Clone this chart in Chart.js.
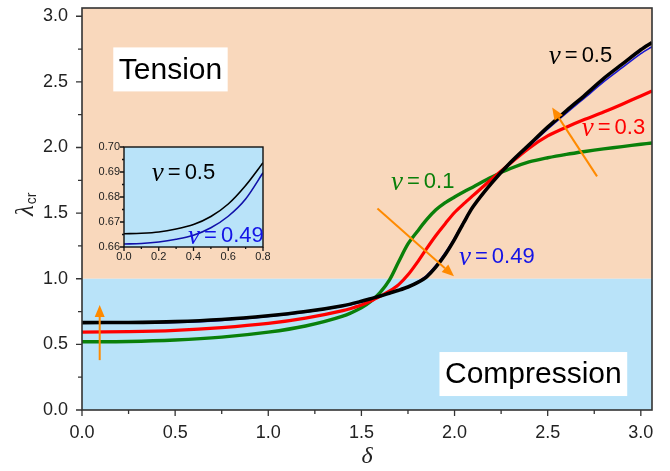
<!DOCTYPE html>
<html>
<head>
<meta charset="utf-8">
<title>Critical stretch vs delta</title>
<script src="https://cdn.jsdelivr.net/npm/chart.js@4.4.1/dist/chart.umd.min.js"></script>
<style>
  html, body { margin: 0; padding: 0; background: #fff; }
  #wrap { position: relative; width: 670px; height: 471px; }
  #main { position: absolute; left: 0; top: 0; }
  #inset { position: absolute; left: 95px; top: 140px; }
</style>
</head>
<body>
<div id="wrap">
  <canvas id="main" width="670" height="471" style="width:670px;height:471px"></canvas>
  <canvas id="inset" width="175" height="128" style="width:175px;height:128px"></canvas>
</div>
<script>
// delta values shared by the four curves
const delta = [0, 0.25, 0.5, 0.75, 1.0, 1.2, 1.4, 1.5, 1.55, 1.6, 1.65, 1.7, 1.75, 1.8, 1.85,
  1.9, 1.95, 2.0, 2.05, 2.1, 2.2, 2.3, 2.4, 2.5, 2.6, 2.7, 2.8, 2.9, 3.0, 3.06];

// critical stretch for each Poisson ratio
const lambdaNu05 = [0.666, 0.667, 0.673, 0.689, 0.718, 0.75, 0.795, 0.828, 0.848, 0.868, 0.89, 0.912, 0.937, 0.97, 1.015,
  1.09, 1.185, 1.30, 1.43, 1.55, 1.73, 1.885, 2.02, 2.155, 2.28, 2.40, 2.525, 2.635, 2.745, 2.80];
const lambdaNu049 = [0.661, 0.662, 0.667, 0.683, 0.712, 0.745, 0.791, 0.824, 0.846, 0.867, 0.89, 0.914, 0.94, 0.976, 1.025,
  1.102, 1.198, 1.312, 1.438, 1.553, 1.728, 1.878, 2.01, 2.14, 2.262, 2.38, 2.50, 2.608, 2.715, 2.768];
const lambdaNu03 = [0.594, 0.597, 0.607, 0.628, 0.66, 0.70, 0.757, 0.80, 0.83, 0.866, 0.905, 0.955, 1.03, 1.125, 1.23,
  1.33, 1.42, 1.505, 1.572, 1.635, 1.76, 1.88, 1.995, 2.088, 2.155, 2.215, 2.27, 2.33, 2.393, 2.43];
const lambdaNu01 = [0.52, 0.522, 0.533, 0.555, 0.593, 0.64, 0.715, 0.78, 0.828, 0.895, 0.99, 1.13, 1.265, 1.36, 1.45,
  1.525, 1.58, 1.623, 1.663, 1.70, 1.775, 1.84, 1.89, 1.922, 1.948, 1.97, 1.99, 2.007, 2.025, 2.035];

// zoomed view of the small-delta range
const insetDelta = [0, 0.1, 0.2, 0.3, 0.4, 0.5, 0.6, 0.7, 0.8];
const insetNu05 = [0.6653, 0.6655, 0.6660, 0.6672, 0.6690, 0.6722, 0.6772, 0.6846, 0.6937];
const insetNu049 = [0.6612, 0.6614, 0.6620, 0.6631, 0.6647, 0.6677, 0.6723, 0.6792, 0.6897];

// tick positions
const xTicks = [0, 0.25, 0.5, 0.75, 1.0, 1.25, 1.5, 1.75, 2.0, 2.25, 2.5, 2.75, 3.0];
const yTicks = [0, 0.25, 0.5, 0.75, 1.0, 1.25, 1.5, 1.75, 2.0, 2.25, 2.5, 2.75, 3.0];
const insetXTicks = [0, 0.1, 0.2, 0.3, 0.4, 0.5, 0.6, 0.7, 0.8];
const insetYTicks = [0.66, 0.665, 0.67, 0.675, 0.68, 0.685, 0.69, 0.695, 0.70];

const boundary = 1.0;   // lambda_cr = 1 splits tension / compression

const SANS = '"Liberation Sans", Arial, Helvetica, sans-serif';
const SERIF = '"Liberation Serif", "Times New Roman", serif';
const TENSION_BG = '#f9d8bc';
const COMPRESSION_BG = '#b9e3f9';
const ARROW = '#ff8a00';

Chart.defaults.font.family = SANS;
Chart.defaults.color = '#222';

function points(xs, ys) {
  return xs.map((x, i) => ({ x: x, y: ys[i] }));
}

function isMajor(v, step) {
  const r = v / step;
  return Math.abs(r - Math.round(r)) < 1e-6;
}

// keep the plot area exactly where the layout padding puts it
function noEdgePadding(s) {
  s.paddingTop = 0;
  s.paddingBottom = 0;
  s.paddingLeft = 0;
  s.paddingRight = 0;
}

function drawArrow(ctx, x0, y0, x1, y1, color) {
  const ang = Math.atan2(y1 - y0, x1 - x0);
  const head = 12, half = 5;
  const bx = x1 - head * Math.cos(ang), by = y1 - head * Math.sin(ang);
  ctx.save();
  ctx.strokeStyle = color;
  ctx.fillStyle = color;
  ctx.lineWidth = 2;
  ctx.beginPath();
  ctx.moveTo(x0, y0);
  ctx.lineTo(bx, by);
  ctx.stroke();
  ctx.beginPath();
  ctx.moveTo(x1, y1);
  ctx.lineTo(bx + half * Math.sin(ang), by - half * Math.cos(ang));
  ctx.lineTo(bx - half * Math.sin(ang), by + half * Math.cos(ang));
  ctx.closePath();
  ctx.fill();
  ctx.restore();
}

function drawNu(ctx, value, x, y, color) {
  ctx.save();
  ctx.fillStyle = color;
  ctx.textBaseline = 'middle';
  ctx.textAlign = 'left';
  ctx.font = 'italic 27px ' + SERIF;
  ctx.fillText('\u03bd', x, y + 1);
  let cx = x + ctx.measureText('\u03bd').width + 4;
  ctx.font = '22px ' + SANS;
  ctx.fillText('=', cx, y);
  cx += ctx.measureText('=').width + 4;
  ctx.fillText(value, cx, y);
  ctx.restore();
}

function drawBoxedText(ctx, text, cx, cy) {
  ctx.save();
  ctx.font = '30px ' + SANS;
  const w = ctx.measureText(text).width + 11;
  const h = 44;
  ctx.fillStyle = '#fff';
  ctx.fillRect(cx - w / 2, cy - h / 2, w, h);
  ctx.fillStyle = '#000';
  ctx.textAlign = 'center';
  ctx.textBaseline = 'middle';
  ctx.fillText(text, cx, cy + 1);
  ctx.restore();
}

// frame round the plot area plus outward tick marks
function frameTicks(cfg) {
  return {
    id: 'frameTicks',
    afterDatasetsDraw(chart) {
      const { ctx, chartArea: a, scales: { x, y } } = chart;
      ctx.save();
      ctx.strokeStyle = cfg.color;
      ctx.lineWidth = cfg.lineWidth;
      ctx.strokeRect(a.left, a.top, a.width, a.height);
      ctx.lineWidth = 1.3;
      ctx.beginPath();
      cfg.xTicks.forEach(v => {
        const px = x.getPixelForValue(v);
        const len = isMajor(v, cfg.xStep) ? cfg.major : cfg.minor;
        ctx.moveTo(px, a.bottom);
        ctx.lineTo(px, a.bottom + len);
      });
      cfg.yTicks.forEach(v => {
        const py = y.getPixelForValue(v);
        const len = isMajor(v, cfg.yStep) ? cfg.major : cfg.minor;
        ctx.moveTo(a.left, py);
        ctx.lineTo(a.left - len, py);
      });
      ctx.stroke();
      ctx.restore();
    }
  };
}

const regions = {
  id: 'regions',
  beforeDatasetsDraw(chart) {
    const { ctx, chartArea: a, scales: { y } } = chart;
    const yb = y.getPixelForValue(boundary);
    ctx.save();
    ctx.fillStyle = TENSION_BG;
    ctx.fillRect(a.left, a.top, a.width, yb - a.top);
    ctx.fillStyle = COMPRESSION_BG;
    ctx.fillRect(a.left, yb, a.width, a.bottom - yb);
    ctx.restore();
  }
};

// labels, arrows and axis titles on the main plot (positions in data units)
const notes = {
  id: 'notes',
  afterDatasetsDraw(chart) {
    const { ctx, chartArea: a, scales: { x, y } } = chart;
    const X = v => x.getPixelForValue(v), Y = v => y.getPixelForValue(v);

    drawBoxedText(ctx, 'Tension', X(0.475), Y(2.595));
    drawBoxedText(ctx, 'Compression', X(2.423), Y(0.274));

    drawNu(ctx, '0.5', X(2.506), Y(2.70), '#000');
    drawNu(ctx, '0.3', X(2.683), Y(2.146), '#ff0000');
    drawNu(ctx, '0.1', X(1.659), Y(1.735), '#0a800a');
    drawNu(ctx, '0.49', X(2.024), Y(1.164), '#1414e6');

    drawArrow(ctx, X(0.095), Y(0.38), X(0.095), Y(0.80), ARROW);
    drawArrow(ctx, X(1.586), Y(1.535), X(1.997), Y(1.02), ARROW);
    drawArrow(ctx, X(2.765), Y(1.78), X(2.524), Y(2.304), ARROW);

    ctx.save();
    ctx.fillStyle = '#222';
    ctx.textAlign = 'center';
    ctx.textBaseline = 'middle';
    ctx.font = 'italic 24px ' + SERIF;
    ctx.fillText('\u03b4', (a.left + a.right) / 2, 457);

    ctx.translate(26, 209);
    ctx.rotate(-Math.PI / 2);
    ctx.textAlign = 'left';
    ctx.font = 'italic 25px ' + SERIF;
    ctx.fillText('\u03bb', -7, 0);
    const lw = ctx.measureText('\u03bb').width;
    ctx.font = '14px ' + SANS;
    ctx.fillText('cr', -7 + lw + 1, 6);
    ctx.restore();
  }
};

const series = [
  { label: '\u03bd = 0.5', data: lambdaNu05, color: '#000000', width: 3.6 },
  { label: '\u03bd = 0.49', data: lambdaNu049, color: '#1a1ad0', width: 1.6 },
  { label: '\u03bd = 0.3', data: lambdaNu03, color: '#ff0000', width: 3.2 },
  { label: '\u03bd = 0.1', data: lambdaNu01, color: '#0a800a', width: 3.4 }
];

new Chart(document.getElementById('main'), {
  type: 'line',
  data: {
    datasets: series.map(s => ({
      label: s.label,
      data: points(delta, s.data),
      borderColor: s.color,
      borderWidth: s.width,
      pointRadius: 0,
      tension: 0.3,
      fill: false
    }))
  },
  options: {
    responsive: false,
    animation: false,
    layout: { padding: { top: 8, right: 18, left: 0, bottom: 0 } },
    plugins: { legend: { display: false }, tooltip: { enabled: false } },
    scales: {
      x: {
        type: 'linear',
        min: 0,
        max: 3.06,
        grid: { display: false, drawTicks: false },
        border: { display: false },
        afterBuildTicks: s => { s.ticks = xTicks.map(v => ({ value: v })); },
        afterFit: s => { s.height = 61; noEdgePadding(s); },
        ticks: {
          autoSkip: false,
          maxRotation: 0,
          padding: 12,
          font: { size: 18 },
          color: '#222',
          callback: v => isMajor(v, 0.5) ? v.toFixed(1) : ''
        }
      },
      y: {
        type: 'linear',
        min: 0,
        max: 3.063,
        grid: { display: false, drawTicks: false },
        border: { display: false },
        afterBuildTicks: s => { s.ticks = yTicks.map(v => ({ value: v })); },
        afterFit: s => { s.width = 82; noEdgePadding(s); },
        ticks: {
          autoSkip: false,
          padding: 14,
          font: { size: 18 },
          color: '#222',
          callback: v => isMajor(v, 0.5) ? v.toFixed(1) : ''
        }
      }
    }
  },
  plugins: [regions, frameTicks({ color: '#333', lineWidth: 1.6, major: 6, minor: 4,
    xTicks: xTicks, yTicks: yTicks, xStep: 0.5, yStep: 0.5 }), notes]
});

// inset: small-delta detail of nu = 0.5 and 0.49
const insetBg = {
  id: 'insetBg',
  beforeDatasetsDraw(chart) {
    const { ctx, chartArea: a } = chart;
    ctx.save();
    ctx.fillStyle = COMPRESSION_BG;
    ctx.fillRect(a.left, a.top, a.width, a.height);
    ctx.restore();
  }
};

const insetNotes = {
  id: 'insetNotes',
  afterDatasetsDraw(chart) {
    const { ctx, scales: { x, y } } = chart;
    drawNu(ctx, '0.5', x.getPixelForValue(0.16), y.getPixelForValue(0.6896), '#000');
    drawNu(ctx, '0.49', x.getPixelForValue(0.369), y.getPixelForValue(0.6645), '#1414e6');
  }
};

new Chart(document.getElementById('inset'), {
  type: 'line',
  data: {
    datasets: [
      { data: points(insetDelta, insetNu05), borderColor: '#000', borderWidth: 1.6,
        pointRadius: 0, tension: 0.3 },
      { data: points(insetDelta, insetNu049), borderColor: '#1010a8', borderWidth: 1.6,
        pointRadius: 0, tension: 0.3 }
    ]
  },
  options: {
    responsive: false,
    animation: false,
    layout: { padding: { top: 7, right: 7, left: 0, bottom: 0 } },
    plugins: { legend: { display: false }, tooltip: { enabled: false } },
    scales: {
      x: {
        type: 'linear',
        min: 0,
        max: 0.8,
        grid: { display: false, drawTicks: false },
        border: { display: false },
        afterBuildTicks: s => { s.ticks = insetXTicks.map(v => ({ value: v })); },
        afterFit: s => { s.height = 21; noEdgePadding(s); },
        ticks: {
          autoSkip: false,
          maxRotation: 0,
          padding: 3,
          font: { size: 11 },
          color: '#222',
          callback: v => isMajor(v, 0.2) ? v.toFixed(1) : ''
        }
      },
      y: {
        type: 'linear',
        min: 0.66,
        max: 0.70,
        grid: { display: false, drawTicks: false },
        border: { display: false },
        afterBuildTicks: s => { s.ticks = insetYTicks.map(v => ({ value: v })); },
        afterFit: s => { s.width = 29; noEdgePadding(s); },
        ticks: {
          autoSkip: false,
          padding: 4,
          font: { size: 11 },
          color: '#222',
          callback: v => isMajor(v, 0.01) ? v.toFixed(2) : ''
        }
      }
    }
  },
  plugins: [insetBg, frameTicks({ color: '#111', lineWidth: 1.4, major: 4, minor: 2,
    xTicks: insetXTicks, yTicks: insetYTicks, xStep: 0.2, yStep: 0.01 }), insetNotes]
});
</script>
</body>
</html>
